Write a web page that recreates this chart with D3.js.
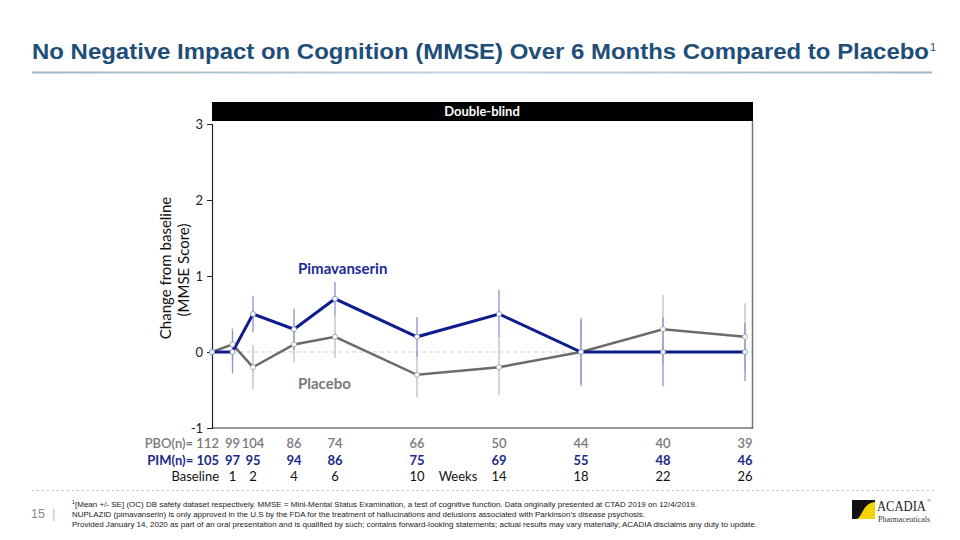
<!DOCTYPE html>
<html><head><meta charset="utf-8">
<script src="https://cdn.jsdelivr.net/npm/d3@7"></script>
<style>
html,body{margin:0;padding:0;background:#fff;}
svg{display:block;}
</style></head>
<body>
<svg id="c" width="960" height="540"></svg>
<script>
const weeks = [0, 1, 2, 4, 6, 10, 14, 18, 22, 26];
const weekLabels = ["Baseline", "1", "2", "4", "6", "10", "14", "18", "22", "26"];
const pimMean = [0, 0, 0.5, 0.3, 0.7, 0.2, 0.5, 0, 0, 0];
const pimSE = [0, 0.28, 0.24, 0.27, 0.22, 0.26, 0.32, 0.43, 0.45, 0.38];
const pboMean = [0, 0.1, -0.2, 0.1, 0.2, -0.3, -0.2, 0, 0.3, 0.2];
const pboSE = [0, 0.22, 0.29, 0.24, 0.28, 0.3, 0.37, 0.45, 0.45, 0.44];
const pboN = [112, 99, 104, 86, 74, 66, 50, 44, 40, 39];
const pimN = [105, 97, 95, 94, 86, 75, 69, 55, 48, 46];
const yTicks = [3, 2, 1, 0, -1];
const title = "No Negative Impact on Cognition (MMSE) Over 6 Months Compared to Placebo";
const footnotes = [
  "[Mean +/- SE] (OC) DB safety dataset respectively. MMSE = Mini-Mental Status Examination, a test of cognitive function. Data originally presented at CTAD 2019 on 12/4/2019.",
  "NUPLAZID (pimavanserin) is only approved in the U.S by the FDA for the treatment of hallucinations and delusions associated with Parkinson\u2019s disease psychosis.",
  "Provided January 14, 2020 as part of an oral presentation and is qualified by such; contains forward-looking statements; actual results may vary materially; ACADIA disclaims any duty to update."
];

const svg = d3.select("#c");
const F = "Lato, 'Open Sans', sans-serif";
const blue = "#0d1d8c", gray = "#6b6b6b";

// Title
svg.append("text").attr("x", 32).attr("y", 59)
  .attr("font-family", "'Liberation Sans', Arial, sans-serif").attr("font-weight", "bold")
  .attr("font-size", 22.5).attr("fill", "#1f4e79")
  .attr("textLength", 897).attr("lengthAdjust", "spacingAndGlyphs").text(title);
svg.append("text").attr("x", 930).attr("y", 51)
  .attr("font-family", "'Liberation Sans', Arial, sans-serif").attr("font-size", 11).attr("fill", "#1f4e79").text("1");
const grad = svg.append("defs").append("linearGradient").attr("id", "ug");
grad.append("stop").attr("offset", "0").attr("stop-color", "#9fb8c8");
grad.append("stop").attr("offset", "0.5").attr("stop-color", "#c4d4de");
grad.append("stop").attr("offset", "1").attr("stop-color", "#9fb8c8");
svg.append("rect").attr("x", 32).attr("y", 71.5).attr("width", 900).attr("height", 2).attr("fill", "url(#ug)");

// Scales
const x = d3.scaleLinear().domain([0, 26]).range([212, 745]);
const y = d3.scaleLinear().domain([-1, 3]).range([428, 124]);

// Header bar
svg.append("rect").attr("x", 212).attr("y", 102).attr("width", 541).attr("height", 19).attr("fill", "#000");
svg.append("text").attr("x", 482).attr("y", 116).attr("text-anchor", "middle")
  .attr("font-family", F).attr("font-weight", "bold").attr("font-size", 13).attr("fill", "#fff").text("Double-blind");

// Right border + bottom
svg.append("line").attr("x1", 752.5).attr("x2", 752.5).attr("y1", 121).attr("y2", 428.5).attr("stroke", "#777").attr("stroke-width", 1.5);
svg.append("line").attr("x1", 212).attr("x2", 753).attr("y1", y(-1)).attr("y2", y(-1)).attr("stroke", "#333").attr("stroke-width", 1.2);

// Y axis
const ya = svg.append("g").attr("transform", "translate(212,0)")
  .call(d3.axisLeft(y).tickValues(yTicks).tickSize(5).tickFormat(d3.format("d")));
ya.select(".domain").attr("stroke", "#222").attr("stroke-width", 1.2);
ya.selectAll(".tick line").attr("stroke", "#222");
ya.selectAll(".tick text").attr("font-family", F).attr("font-size", 13).attr("fill", "#222").attr("x", -9)
  .text(d => d < 0 ? "-" + Math.abs(d) : d);

// Y label
svg.append("text").attr("transform", "translate(171,268) rotate(-90)").attr("text-anchor", "middle")
  .attr("font-family", F).attr("font-size", 15).attr("fill", "#111").text("Change from baseline");
svg.append("text").attr("transform", "translate(189,270) rotate(-90)").attr("text-anchor", "middle")
  .attr("font-family", F).attr("font-size", 15).attr("fill", "#111").text("(MMSE Score)");

// zero dashed
svg.append("line").attr("x1", x(0)).attr("x2", x(26)).attr("y1", y(0)).attr("y2", y(0))
  .attr("stroke", "#cfcfcf").attr("stroke-dasharray", "4,3");

const idx = d3.range(weeks.length).filter(i => i > 0);
// error bars (placebo then pim)
svg.append("g").selectAll("line").data(idx).join("line")
  .attr("x1", i => x(weeks[i])).attr("x2", i => x(weeks[i]))
  .attr("y1", i => y(pboMean[i] + pboSE[i])).attr("y2", i => y(pboMean[i] - pboSE[i]))
  .attr("stroke", "#bdbdbd").attr("stroke-width", 1.3);
svg.append("g").selectAll("line").data(idx).join("line")
  .attr("x1", i => x(weeks[i])).attr("x2", i => x(weeks[i]))
  .attr("y1", i => y(pimMean[i] + pimSE[i])).attr("y2", i => y(pimMean[i] - pimSE[i]))
  .attr("stroke", "#8a93cc").attr("stroke-width", 1.3);

const line = d3.line().x(d => x(d[0])).y(d => y(d[1]));
const pbo = weeks.map((w, i) => [w, pboMean[i]]);
const pim = weeks.map((w, i) => [w, pimMean[i]]);
svg.append("path").attr("d", line(pbo)).attr("fill", "none").attr("stroke", gray).attr("stroke-width", 2.5);
svg.append("path").attr("d", line(pim)).attr("fill", "none").attr("stroke", blue).attr("stroke-width", 3);
svg.append("g").selectAll("circle").data(pbo).join("circle")
  .attr("cx", d => x(d[0])).attr("cy", d => y(d[1])).attr("r", 2.5)
  .attr("fill", "#fff").attr("stroke", "#999").attr("stroke-width", 0.8);
svg.append("g").selectAll("circle").data(pim).join("circle")
  .attr("cx", d => x(d[0])).attr("cy", d => y(d[1])).attr("r", 2.5)
  .attr("fill", "#fff").attr("stroke", "#7a84c4").attr("stroke-width", 0.8);

// series labels
svg.append("text").attr("x", 298).attr("y", 274).attr("font-family", F).attr("font-weight", "bold")
  .attr("font-size", 15).attr("fill", "#1a2a9a").text("Pimavanserin");
svg.append("text").attr("x", 298).attr("y", 389).attr("font-family", F).attr("font-weight", "bold")
  .attr("font-size", 15).attr("fill", "#7a7a7a").text("Placebo");

// N table
const rows = [
  {lab: "PBO(n)= ", vals: pboN, y: 448, fill: "#7a7a7a", w: 600},
  {lab: "PIM(n)= ", vals: pimN, y: 465, fill: "#1a2a8a", w: "bold"},
];
rows.forEach(r => {
  const g = svg.append("g").attr("font-family", F).attr("font-size", 13).attr("fill", r.fill).attr("font-weight", r.w);
  g.append("text").attr("x", 219).attr("y", r.y).attr("text-anchor", "end").text(r.lab + r.vals[0]);
  g.selectAll("text.v").data(idx).join("text").attr("class", "v")
    .attr("x", i => x(weeks[i])).attr("y", r.y).attr("text-anchor", "middle").text(i => r.vals[i]);
});
const wg = svg.append("g").attr("font-family", F).attr("font-size", 13).attr("fill", "#111");
wg.append("text").attr("x", 219).attr("y", 481).attr("text-anchor", "end").text(weekLabels[0]);
wg.selectAll("text.v").data(idx).join("text").attr("class", "v")
  .attr("x", i => x(weeks[i])).attr("y", 481).attr("text-anchor", "middle").text(i => weekLabels[i]);
wg.append("text").attr("x", x(12)).attr("y", 481).attr("text-anchor", "middle").text("Weeks");

// footer dotted line
svg.append("line").attr("x1", 32).attr("x2", 937).attr("y1", 490.5).attr("y2", 490.5)
  .attr("stroke", "#b5b5b5").attr("stroke-width", 1).attr("stroke-dasharray", "1.5,3.5");
svg.append("text").attr("x", 31).attr("y", 518).attr("font-family", "'Liberation Sans', Arial, sans-serif")
  .attr("font-size", 12.5).attr("fill", "#8a8a8a").text("15");
svg.append("text").attr("x", 52).attr("y", 518).attr("font-family", "'Liberation Sans', Arial, sans-serif")
  .attr("font-size", 12.5).attr("fill", "#a9bfd0").text("|");

const fl = [622, 573, 685];
const fy = [507, 517, 526.5];
const fg = svg.append("g").attr("font-family", "'Liberation Sans', Arial, sans-serif").attr("font-size", 7.8).attr("fill", "#1a1a1a");
fg.append("text").attr("x", 72).attr("y", fy[0] - 3).attr("font-size", 5).text("1");
fg.append("text").attr("x", 75).attr("y", fy[0]).attr("textLength", fl[0]).attr("lengthAdjust", "spacingAndGlyphs").text(footnotes[0]);
fg.append("text").attr("x", 72).attr("y", fy[1]).attr("textLength", fl[1]).attr("lengthAdjust", "spacingAndGlyphs").text(footnotes[1]);
fg.append("text").attr("x", 72).attr("y", fy[2]).attr("textLength", fl[2]).attr("lengthAdjust", "spacingAndGlyphs").text(footnotes[2]);

// Logo
const lg = svg.append("g");
lg.append("rect").attr("x", 852).attr("y", 500).attr("width", 23).attr("height", 19).attr("fill", "#111");
lg.append("path").attr("d", "M856,519 C862,519 862,503 875,502 L875,519 Z").attr("fill", "#f5d300");
lg.append("g").attr("transform", "translate(877,511) scale(0.84,1)")
  .append("text").attr("x", 0).attr("y", 0).attr("font-family", "'Liberation Serif', 'DejaVu Serif', serif")
  .attr("font-size", 15).attr("fill", "#222").text("ACADIA");
lg.append("text").attr("x", 927).attr("y", 502).attr("font-family", "'Liberation Serif', serif").attr("font-size", 5).attr("fill", "#222").text("®");
lg.append("text").attr("x", 878).attr("y", 522).attr("font-family", "'Liberation Serif', 'DejaVu Serif', serif")
  .attr("font-size", 8.5).attr("fill", "#333").attr("textLength", 52).attr("lengthAdjust", "spacingAndGlyphs").text("Pharmaceuticals");
</script>
</body></html>
